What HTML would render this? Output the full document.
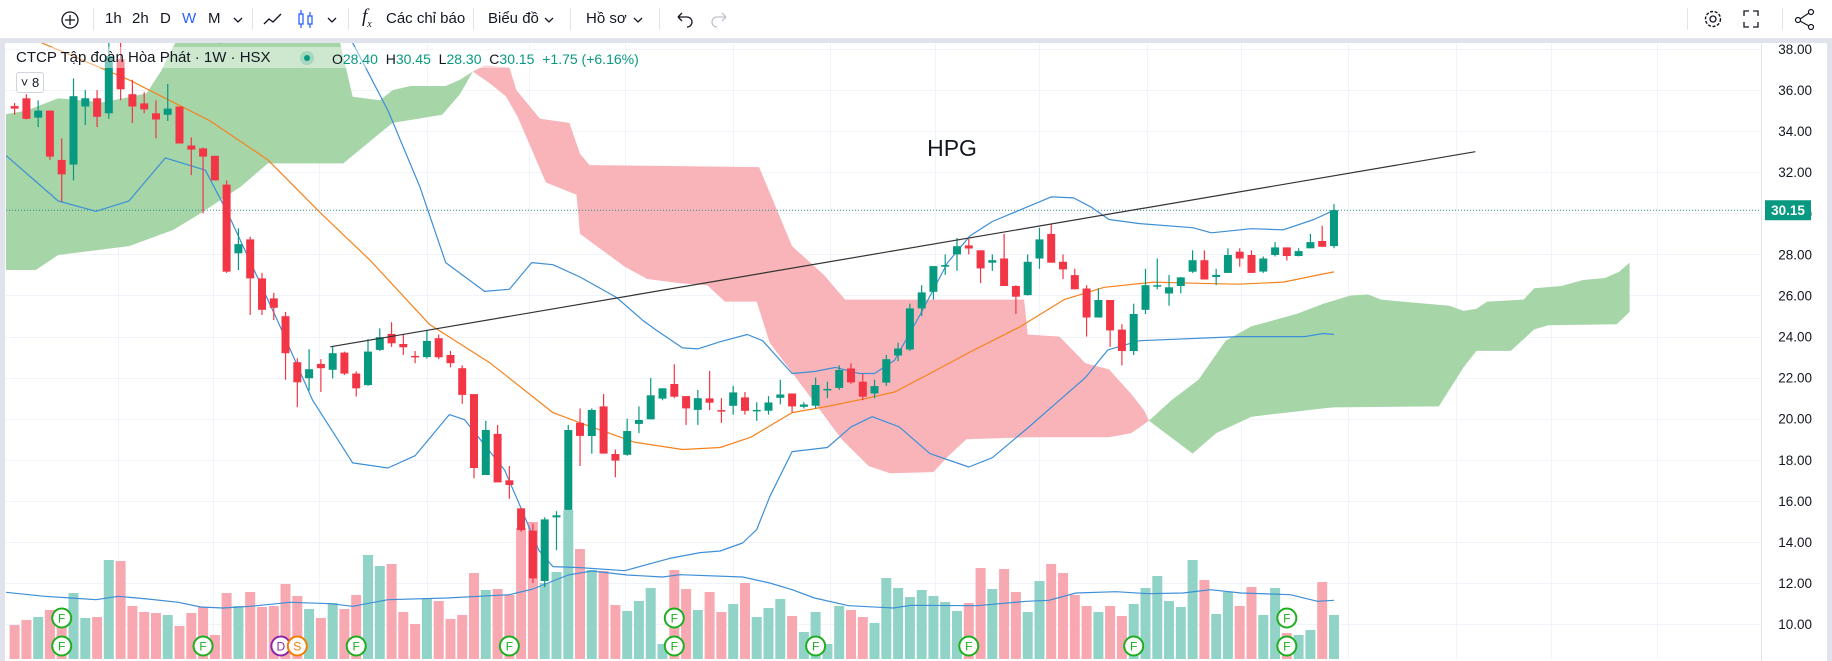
<!DOCTYPE html>
<html><head><meta charset="utf-8">
<style>
html,body{margin:0;padding:0;background:#fff;}
body{width:1832px;height:661px;overflow:hidden;position:relative;font-family:"Liberation Sans","Noto Sans CJK SC",sans-serif;}
#tb{position:absolute;left:0;top:0;width:1832px;height:38px;background:#fff;}
.ti{position:absolute;top:9px;font-size:15px;color:#131722;line-height:20px;}
.sep{position:absolute;top:8px;width:1px;height:22px;background:#e0e3eb;}
svg{position:absolute;left:0;top:0;}
</style></head>
<body>
<div id="tb">
  <svg width="1832" height="38">
    <g><circle cx="70" cy="20" r="8" fill="none" stroke="#131722" stroke-width="1.3"/><path d="M70 15v10M65 20h10" stroke="#131722" stroke-width="1.3"/></g>
    <g><path d="M234 18l4 4 4-4" fill="none" stroke="#131722" stroke-width="1.3"/></g>
    <g><path d="M264 24l5-5 4 3 8-8" fill="none" stroke="#131722" stroke-width="1.4"/></g>
    <g><rect x="299" y="14" width="4" height="10" fill="none" stroke="#2962ff" stroke-width="1.3"/><path d="M301 10v4M301 24v4" stroke="#2962ff" stroke-width="1.3"/><rect x="308" y="16" width="4" height="8" fill="none" stroke="#2962ff" stroke-width="1.3"/><path d="M310 12v4M310 24v4" stroke="#2962ff" stroke-width="1.3"/></g>
    <g><path d="M328 18l4 4 4-4" fill="none" stroke="#131722" stroke-width="1.3"/></g>
    <g><path d="M545 18l4 4 4-4" fill="none" stroke="#131722" stroke-width="1.3"/></g>
    <g><path d="M634 18l4 4 4-4" fill="none" stroke="#131722" stroke-width="1.3"/></g>
    <g><path d="M678 17h9a5 5 0 0 1 0 10M678 17l4-4M678 17l4 4" fill="none" stroke="#131722" stroke-width="1.3"/></g>
    <g><path d="M726 17h-9a5 5 0 0 0 0 10M726 17l-4-4M726 17l-4 4" fill="none" stroke="#c0c3cc" stroke-width="1.3"/></g>
    <g><circle cx="1713" cy="19" r="7.5" fill="none" stroke="#131722" stroke-width="1.4" stroke-dasharray="3 1.6"/><circle cx="1713" cy="19" r="3" fill="none" stroke="#131722" stroke-width="1.3"/></g>
    <g><path d="M1744 16v-5h5M1753 11h5v5M1758 22v5h-5M1749 27h-5v-5" fill="none" stroke="#131722" stroke-width="1.3"/></g>
    <g><circle cx="1798" cy="20" r="2.5" fill="none" stroke="#131722" stroke-width="1.2"/><circle cx="1811" cy="12" r="2.5" fill="none" stroke="#131722" stroke-width="1.2"/><circle cx="1811" cy="27" r="2.5" fill="none" stroke="#131722" stroke-width="1.2"/><path d="M1800 19l9-6M1800 21l9 5" stroke="#131722" stroke-width="1.2"/></g>
  </svg>
  <div class="sep" style="left:93px"></div>
  <span class="ti" style="left:105px">1h</span>
  <span class="ti" style="left:132px">2h</span>
  <span class="ti" style="left:160px">D</span>
  <span class="ti" style="left:182px;color:#2962ff">W</span>
  <span class="ti" style="left:208px">M</span>
  <div class="sep" style="left:252px"></div>
  <div class="sep" style="left:348px"></div>
  <span class="ti" style="left:362px;font-style:italic;font-family:'Liberation Serif',serif;font-size:19px;top:7px">f<sub style="font-size:10px">x</sub></span>
  <span class="ti" style="left:386px">Các chỉ báo</span>
  <div class="sep" style="left:473px"></div>
  <span class="ti" style="left:488px">Biểu đồ</span>
  <div class="sep" style="left:570px"></div>
  <span class="ti" style="left:586px">Hồ sơ</span>
  <div class="sep" style="left:659px"></div>
  <div class="sep" style="left:1687px"></div>
  <div class="sep" style="left:1782px"></div>
</div>
<div style="position:absolute;left:0;top:38px;width:1832px;height:5px;background:#e0e3eb"></div>
<div style="position:absolute;left:0;top:38px;width:5px;height:623px;background:#e0e3eb"></div>
<div style="position:absolute;left:1827px;top:38px;width:5px;height:623px;background:#e0e3eb"></div>

<svg id="chart" width="1832" height="661" style="top:0"></svg>

<script>
// ---------- DATA ----------
const opens  = [35.22,35.6,34.66,35.0,32.6,32.37,35.2,35.6,34.87,37.5,35.8,35.35,34.87,34.8,35.2,33.3,33.16,32.8,31.4,28.05,28.73,26.83,25.86,24.99,22.75,21.97,22.67,22.38,23.22,22.2,21.64,23.35,24.13,23.64,23.06,23.0,23.92,23.1,22.46,21.2,17.26,19.26,17.0,15.64,14.55,12.1,15.2,15.56,19.8,19.16,20.6,18.28,18.24,19.75,19.97,20.98,21.69,21.1,20.43,20.99,20.42,20.63,21.04,20.4,20.39,21.02,21.23,20.58,20.63,21.4,21.5,22.45,21.8,21.23,21.76,23.08,23.37,25.37,26.18,27.4,28.0,28.44,28.2,27.6,27.8,26.46,26.02,27.8,29.0,27.64,26.99,26.34,24.93,25.78,24.34,23.3,25.3,26.5,26.1,26.46,27.16,27.72,26.9,27.1,28.13,27.97,27.16,27.97,28.34,27.92,28.3,28.65,28.40];
const highs  = [35.37,35.8,35.5,35.0,33.65,36.57,36.0,36.0,38.3,38.36,36.5,35.9,35.5,36.3,35.2,33.7,33.2,32.8,31.6,29.27,28.86,27.1,26.13,25.2,22.94,23.38,22.9,23.5,23.27,22.3,23.87,24.4,24.7,24.1,23.3,24.3,24.1,23.3,22.6,21.2,19.9,19.7,17.7,15.64,14.9,15.2,15.5,19.7,20.5,20.5,21.2,18.5,20.0,20.6,21.98,21.48,22.65,21.1,21.4,22.33,21.0,21.6,21.3,20.8,21.1,21.9,21.23,20.8,22.0,21.8,22.6,22.7,22.2,21.9,23.1,23.7,25.6,26.5,27.43,28.0,28.8,28.75,28.2,28.0,29.0,26.5,28.0,29.3,29.5,28.0,27.3,26.5,26.35,25.78,24.6,25.6,27.3,27.8,27.0,26.9,28.2,28.2,27.3,28.3,28.3,28.2,27.9,28.6,28.34,28.3,29.0,29.4,30.45];
const lows   = [34.8,34.57,34.2,32.6,30.56,31.6,34.3,34.2,34.6,35.5,34.4,34.87,33.65,34.5,33.4,31.86,30.0,31.6,27.1,27.24,25.05,25.05,24.8,21.9,20.56,21.37,21.3,21.96,22.13,21.08,21.6,23.3,23.5,23.1,22.7,22.93,22.9,22.5,20.73,17.1,17.26,16.9,16.1,14.5,12.0,11.8,13.6,15.56,17.7,18.3,18.3,17.15,18.2,19.3,19.97,20.9,21.0,19.7,19.7,20.42,19.8,20.2,20.2,19.9,20.2,20.7,20.3,20.5,20.5,21.0,21.4,21.7,20.9,21.0,21.6,22.8,23.3,25.0,25.8,27.0,27.2,28.0,26.6,27.2,26.46,25.1,26.0,27.3,27.6,26.8,26.3,24.0,24.93,23.5,22.6,23.1,25.1,26.3,25.5,26.1,27.1,26.78,26.5,27.1,27.4,27.1,27.1,27.9,27.7,27.9,28.3,28.37,28.30];
const closes = [35.1,34.6,35.0,32.76,31.9,35.7,35.6,34.7,37.66,36.04,35.2,35.06,34.57,35.1,33.4,33.1,32.76,31.6,27.16,28.5,26.83,25.3,25.4,23.19,21.77,22.41,22.46,23.19,22.2,21.48,23.27,23.97,23.67,23.48,23.0,23.79,22.99,22.7,21.16,17.6,19.45,16.9,16.77,14.58,12.23,15.1,15.3,19.45,19.16,20.43,18.3,17.96,19.4,19.94,21.14,21.48,21.07,20.5,21.0,20.78,20.37,21.28,20.39,20.43,20.79,21.18,20.6,20.69,21.64,21.45,22.37,21.77,21.07,21.59,22.9,23.42,25.37,26.15,27.43,27.48,28.4,28.29,27.32,27.72,26.46,25.94,27.64,28.73,27.6,27.27,26.3,24.93,25.78,24.3,23.3,25.1,26.5,26.5,26.4,26.88,27.72,26.78,27.0,27.97,27.8,27.1,27.8,28.34,27.92,28.16,28.6,28.37,30.15];
const volumes = [34,39,42,49,46,66,41,42,99,98,53,47,46,44,33,46,52,24,66,53,67,52,53,75,63,50,41,56,50,64,104,93,95,47,35,61,58,40,44,86,69,70,64,131,137,76,87,149,110,89,88,54,48,58,71,15,89,70,49,67,47,55,76,42,51,60,43,27,47,15,53,49,42,36,81,71,62,69,63,57,48,56,91,70,90,67,47,78,95,86,64,53,47,53,43,55,71,83,58,52,99,79,45,67,53,72,44,71,26,24,29,77,44];
const volumeMA = [[-1,67],[2.55,62.7],[4.8,61],[6.9,59.3],[8.8,62.7],[11.3,60],[13.9,56.7],[15.8,52],[17.7,51],[20,52.7],[23.4,56.7],[26.8,55.3],[28.7,52.7],[31.7,59.3],[36.7,61],[40.4,63.3],[42,64.3],[44,70],[45.7,78],[47,84],[49,88],[52,84],[55,82],[56.5,84.3],[61.8,82],[64.1,76],[66,69.3],[67.9,61],[70.8,53.3],[74.6,51],[76.1,53.7],[81.7,53.3],[85.9,57.7],[87.8,58.7],[90.1,66],[93.5,67.3],[96.2,65.3],[99.2,66],[101.5,69.3],[104.1,66],[108.3,64.3],[110.6,57.7],[112,58.7]];
const bbUpper = [[-1,42],[10,41],[16,39],[17.5,38.3],[20,39],[25,40],[28.7,38.3],[31.7,35.0],[34.4,31.3],[36.6,27.6],[39.9,26.2],[42,26.3],[43.9,27.6],[45.7,27.5],[48,26.9],[51.1,25.9],[53.3,24.8],[54.5,24.3],[56.7,23.45],[58,23.4],[59.9,23.75],[62.2,24.1],[63.5,23.8],[66,22.2],[67.9,22.3],[69.7,22.5],[71.7,22.2],[73,22.2],[74.7,22.85],[76.9,25.1],[79.2,27.6],[81.1,28.9],[83,29.6],[85.3,30.15],[88,30.8],[89.9,30.75],[91.4,30.3],[92.9,29.7],[95.5,29.5],[100,29.3],[101.6,29.05],[105,29.25],[107.7,29.2],[110.3,29.7],[112,30.15]];
const bbBasis = [[-1,39.5],[2.3,38.3],[9.7,36.5],[16.6,34.5],[21.5,32.6],[26,30],[30.2,27.7],[35.2,24.6],[40.4,22.7],[45.7,20.3],[48,19.8],[52.6,18.86],[56.7,18.5],[59.9,18.6],[62.5,19.1],[66,20.3],[69,20.6],[72.4,21.0],[74.7,21.3],[77.7,22.2],[81.1,23.25],[85.3,24.46],[89.1,25.8],[92.5,26.4],[96.7,26.65],[100,26.6],[103.9,26.55],[107.7,26.65],[110.7,27.0],[112,27.15]];
const bbLower = [[-1,32.9],[-0.7,32.8],[3.7,30.6],[6.9,30.1],[9.7,30.6],[12.8,32.7],[16.2,32.1],[18.1,30.0],[22.3,24.8],[25.3,20.9],[28.7,17.85],[31.7,17.6],[34,18.2],[36.9,20.2],[38.2,19.95],[41.6,17.5],[42.8,15.9],[44.5,13.6],[45.7,12.8],[48,12.75],[51.8,12.6],[55.6,13.2],[58.2,13.48],[59.9,13.56],[61.8,13.95],[63,14.6],[64.1,16.2],[66,18.4],[69,18.6],[71,19.6],[72.8,20.1],[75.1,19.6],[77.7,18.3],[81,17.65],[83,18.1],[86,19.55],[88.7,20.9],[90.9,22.0],[92.8,23.35],[95.5,23.8],[103.9,24.0],[109.5,24.0],[111.1,24.15],[112,24.1]];
const cloudGreenLeftTop = [[-1,34.8],[1,35.0],[3.7,35.6],[7.5,35.4],[11.2,35.84],[12.4,36.9],[13.9,38.6],[27.5,38.6],[28.7,35.68],[31,35.5],[32.1,36.0],[33.6,36.2],[36.6,36.2],[37.8,36.5],[38.9,36.9]];
const cloudGreenLeftBottom = [[-1,27.24],[1.8,27.24],[3.7,27.97],[9.7,28.4],[13.5,29.2],[15.8,30.0],[19.2,31.3],[21.5,32.43],[27.9,32.43],[31,33.9],[32.1,34.4],[36.3,34.8],[37.8,35.8],[38.9,36.9]];
const cloudRedTop = [[38.9,36.9],[39.9,37.2],[42,37.1],[42.6,36.0],[44.6,34.6],[47.1,34.4],[48,32.9],[48.8,32.35],[63.2,32.25],[66,28.4],[68.7,27.0],[70.5,25.8],[85.7,25.8],[86,24.1],[88.7,24.0],[90.9,22.7],[92.9,22.4],[94.8,21.2],[95.9,20.4],[96.3,19.9]];
const cloudRedBottom = [[38.9,36.9],[40.4,36.3],[41.7,35.7],[42.7,34.7],[45.1,31.5],[47.7,30.9],[48,29.0],[51.8,27.4],[53.7,26.8],[56.5,26.6],[58.8,26.5],[60.3,25.7],[63,25.7],[64.1,23.7],[68.6,20.25],[70.2,19.0],[72.5,17.7],[74.3,17.35],[78,17.4],[79.2,18.15],[80.8,19.0],[86,19.1],[92.9,19.1],[94.8,19.3],[96.3,19.9]];
const cloudGreenRightTop = [[96.3,19.9],[98.2,20.9],[100.5,21.9],[102.8,23.8],[105,24.5],[108.8,25.1],[111.1,25.6],[113.4,26.0],[114.9,26.05],[116,25.8],[117.8,25.7],[121.8,25.5],[123,25.25],[124.1,25.35],[125,25.7],[128.1,25.8],[129,26.35],[131.3,26.46],[133.1,26.75],[135,26.85],[136.2,27.15],[137.1,27.6]];
const cloudGreenRightBottom = [[96.3,19.9],[100,18.3],[102,19.3],[105,20.1],[108,20.3],[111.1,20.5],[112,20.55],[120.9,20.6],[123,22.5],[124.1,23.3],[127,23.3],[129,24.35],[130.2,24.55],[136,24.6],[137.1,25.2]];
const trendline = [[26.8,23.5],[124.0,33.0]];
const priceTicks = ["38.00","36.00","34.00","32.00","30.00","28.00","26.00","24.00","22.00","20.00","18.00","16.00","14.00","12.00","10.00"];
const lastPrice = 30.15;
const eventTopIdx = [4,56,108];
const eventBottomIdx = [4,16,29,42,56,68,81,95,108];
const eventDivIdx = [22.6];
const eventSplitIdx = [24];
const monthGridIdx = [8.8,16.8,25.8,35,43.7,51.8,61,69.2,78.1,87,96.1,104.1,113.2,122.4,130.4,139.4];

// ---------- SCALES ----------
const X0 = 14.6, DX = 11.78, PANE_L = 6, PANE_R = 1761, PANE_T = 43, PANE_B = 659;
const xOf = i => X0 + i*DX;
const yOf = p => 49 + (38 - p)*20.54;
const VOL_BASE = 659, VOL_K = 1.0;
const vyOf = v => VOL_BASE - v*VOL_K;

const NS = "http://www.w3.org/2000/svg";
const svg = document.getElementById('chart');
function mk(tag, attrs, parent){ const e=document.createElementNS(NS,tag); for(const k in attrs) e.setAttribute(k,attrs[k]); (parent||svg).appendChild(e); return e; }

const defs = mk('defs',{});
const cp = mk('clipPath',{id:'pane'},defs);
mk('rect',{x:PANE_L,y:PANE_T,width:PANE_R-PANE_L,height:PANE_B-PANE_T},cp);

const grid = mk('g',{'stroke':'#f0f3fa','stroke-width':1});


priceTicks.forEach(t=>{ const y=Math.round(yOf(parseFloat(t)))+0.5; mk('line',{x1:PANE_L,x2:PANE_R,y1:y,y2:y},grid); });
monthGridIdx.forEach(i=>{ const x=Math.round(xOf(i))+0.5; mk('line',{x1:x,x2:x,y1:PANE_T,y2:PANE_B},grid); });

const pane = mk('g',{'clip-path':'url(#pane)'});



function pts(arr, fy){ return arr.map(([i,v])=>xOf(i).toFixed(1)+','+fy(v).toFixed(1)); }
function cloud(top,bottom,fill,name){
  const p = pts(top,yOf).concat(pts(bottom.slice().reverse(),yOf)).join(' ');
  const e = mk('polygon',{points:p,fill:fill},pane);
  
  
}
cloud(cloudGreenLeftTop,cloudGreenLeftBottom,'#a6d5a8','ichimoku-cloud-green-left');
cloud(cloudRedTop,cloudRedBottom,'#f9b4b9','ichimoku-cloud-red');
cloud(cloudGreenRightTop,cloudGreenRightBottom,'#a6d5a8','ichimoku-cloud-green-right');

const vg = mk('g',{},pane);


volumes.forEach((v,i)=>{
  const up = closes[i]>=opens[i];
  const r = mk('rect',{x:(xOf(i)-5).toFixed(1),y:vyOf(v).toFixed(1),width:10,height:(v*VOL_K).toFixed(1),fill:up?'#92d3c7':'#f7a8b0'},vg);
  
  
});
function line(arr,fy,color,w,name){
  const e = mk('polyline',{points:pts(arr,fy).join(' '),fill:'none',stroke:color,'stroke-width':w,'stroke-linejoin':'round'},pane);
  
  
}
line(volumeMA,vyOf,'#3d8fd8',1.2,'volume-ma-line');

const ly = yOf(lastPrice);
const dl = mk('line',{x1:PANE_L,x2:PANE_R,y1:ly,y2:ly,stroke:'#2a8f80','stroke-width':1,'stroke-dasharray':'1 2'},pane);



line(bbUpper,yOf,'#3d8fd8',1.2,'bollinger-upper');
line(bbLower,yOf,'#3d8fd8',1.2,'bollinger-lower');
line(bbBasis,yOf,'#f7821b',1.2,'bollinger-basis');

const cg = mk('g',{},pane);


closes.forEach((c,i)=>{
  const o=opens[i], up=c>=o, col=up?'#089981':'#f23645', x=xOf(i);
  const g = mk('g',{},cg);
  
  
  mk('line',{x1:x,x2:x,y1:yOf(highs[i]),y2:yOf(lows[i]),stroke:col,'stroke-width':1.2},g);
  const t=yOf(Math.max(o,c)), b=yOf(Math.min(o,c));
  mk('rect',{x:(x-4).toFixed(1),y:t.toFixed(1),width:8,height:Math.max(1.5,b-t).toFixed(1),fill:col},g);
});

const tl = mk('line',{x1:xOf(trendline[0][0]),y1:yOf(trendline[0][1]),x2:xOf(trendline[1][0]),y2:yOf(trendline[1][1]),stroke:'#333','stroke-width':1.2},pane);



const hl = mk('text',{x:952,y:156,'font-size':23,fill:'#131722','text-anchor':'middle','font-family':'Liberation Sans, sans-serif'},pane);
hl.textContent='HPG';



function badge(i,y,letter,col,name){
  const g=mk('g',{},pane);
  
  
  const x=xOf(i);
  mk('circle',{cx:x,cy:y,r:9.5,fill:'#fff',stroke:col,'stroke-width':2},g);
  const t=mk('text',{x:x,y:y+4.5,'font-size':12,fill:col,'text-anchor':'middle','font-family':'Liberation Sans, sans-serif'},g);
  t.textContent=letter;
}
eventTopIdx.forEach(i=>badge(i,618,'F','#1fae1f','earnings-badge'));
eventBottomIdx.forEach(i=>badge(i,646,'F','#1fae1f','earnings-badge'));
eventDivIdx.forEach(i=>badge(i,646,'D','#8e24aa','dividend-badge'));
eventSplitIdx.forEach(i=>badge(i,646,'S','#f57c00','split-badge'));

const ax = mk('g',{});


mk('line',{x1:PANE_R+0.5,x2:PANE_R+0.5,y1:PANE_T,y2:661,stroke:'#e0e3eb'},ax);
priceTicks.forEach(t=>{
  const e=mk('text',{x:1812,y:yOf(parseFloat(t))+5,'font-size':13.5,fill:'#131722','text-anchor':'end','font-family':'Liberation Sans, sans-serif'},ax);
  e.textContent=t;
  
  
});
const lb = mk('g',{},ax);


mk('rect',{x:1765,y:ly-10,width:46,height:20,fill:'#089981'},lb);
const lt=mk('text',{x:1788,y:ly+5,'font-size':13.5,'font-weight':'bold',fill:'#fff','text-anchor':'middle','font-family':'Liberation Sans, sans-serif'},lb);
lt.textContent=lastPrice.toFixed(2);
</script>

<div style="position:absolute;left:12px;top:47px;width:612px;height:21px;background:rgba(255,255,255,0.45)"></div>
<div style="position:absolute;left:16px;top:48px;font-size:15px;color:#131722;white-space:nowrap;line-height:20px">CTCP Tập đoàn Hòa Phát · 1W · HSX</div>
<div style="position:absolute;left:300px;top:51px;width:14px;height:14px;border-radius:7px;background:rgba(8,153,129,0.2)"><div style="position:absolute;left:4px;top:4px;width:6px;height:6px;border-radius:3px;background:#089981"></div></div>
<div style="position:absolute;left:332px;top:49px;font-size:14px;color:#089981;white-space:nowrap;line-height:20px"><span style="color:#131722">O</span>28.40 &nbsp;<span style="color:#131722">H</span>30.45 &nbsp;<span style="color:#131722">L</span>28.30 &nbsp;<span style="color:#131722">C</span>30.15 &nbsp;+1.75 (+6.16%)</div>
<div style="position:absolute;left:16px;top:72px;width:26px;height:19px;border:1px solid #d1d4dc;border-radius:3px;background:#fff;font-size:13px;color:#131722;line-height:19px;text-align:center">˅ 8</div>
</body></html>
